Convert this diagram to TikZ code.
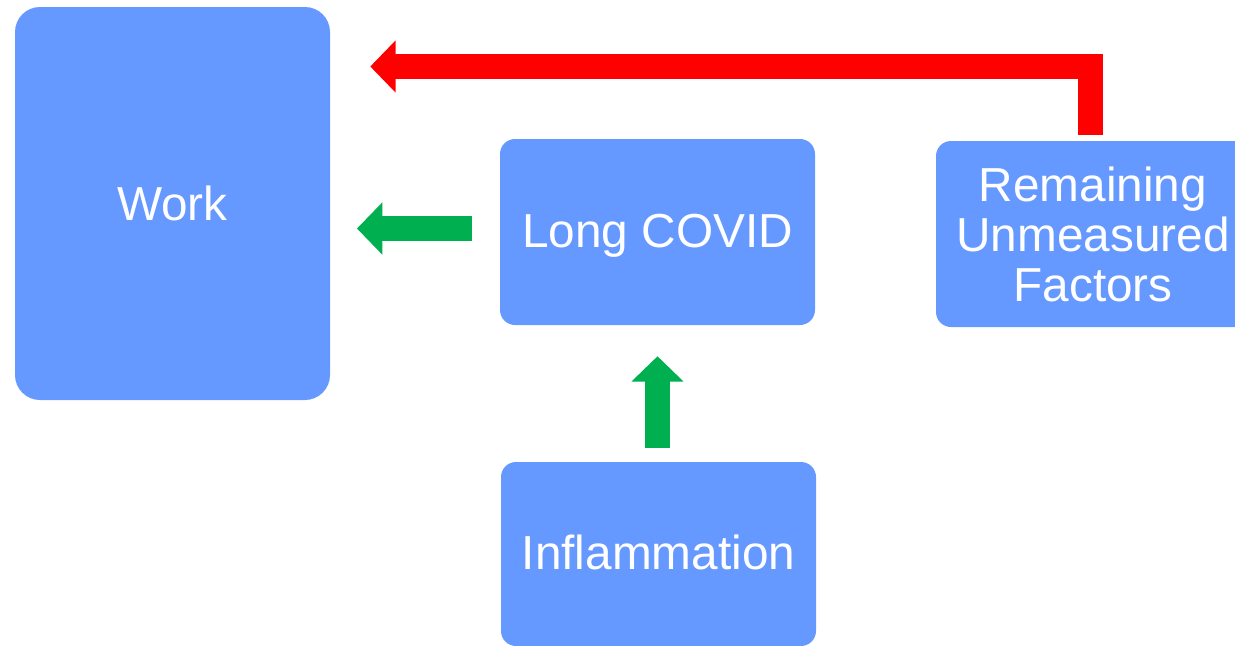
\documentclass[tikz,border=0pt]{standalone}
\usepackage{fontspec}
\setmainfont{Liberation Sans}
\usetikzlibrary{arrows.meta}

\definecolor{boxblue}{RGB}{102,153,255}
\definecolor{arrowgreen}{RGB}{0,176,80}
\definecolor{arrowred}{RGB}{255,0,0}

\tikzset{
  block/.style={fill=boxblue, draw=none, text=white, rounded corners=11.25pt,
    align=center, inner sep=0pt, font=\fontsize{35.8}{37.5}\selectfont},
  fatarrow/.style={line width=19pt, line join=miter,
    -{Triangle[length=19pt, width=38pt]}},
}

\begin{document}
\begin{tikzpicture}[x=0.75pt, y=-0.75pt]
\useasboundingbox (0,0) rectangle (1235,646);

%%%%%%%%% boxes
\node[block, rounded corners=18.75pt, minimum width=236.25pt, minimum height=294.75pt]
  (work) at (172.5,203.5) {Work};
\node[block, minimum width=236.25pt, minimum height=139.5pt, text depth=2pt]
  (longcovid) at (657.5,232) {Long COVID};
\node[block, minimum width=235.5pt, minimum height=139.5pt]
  (factors) at (1093,234) {Remaining\\Unmeasured\\Factors};
\node[block, minimum width=236.25pt, minimum height=138pt, text depth=2pt]
  (inflam) at (658.5,554) {Inflammation};

%%%%%%%%% arrows
\coordinate (redturn) at (1090.5,66.5);
\draw[fatarrow, arrowred, shorten <=4.5pt, shorten >=30pt]
  (factors.north -| redturn) -- (redturn) -- (work.east |- redturn);

\draw[fatarrow, arrowgreen, shorten <=21pt, shorten >=20pt]
  ([yshift=2.6pt]longcovid.west) -- ([yshift=2.6pt]work.east |- longcovid.west);

\draw[fatarrow, arrowgreen, shorten <=10.5pt, shorten >=23.25pt]
  ([xshift=-0.75pt]inflam.north) -- ([xshift=-0.75pt]inflam.north |- longcovid.south);

\end{tikzpicture}
\end{document}
